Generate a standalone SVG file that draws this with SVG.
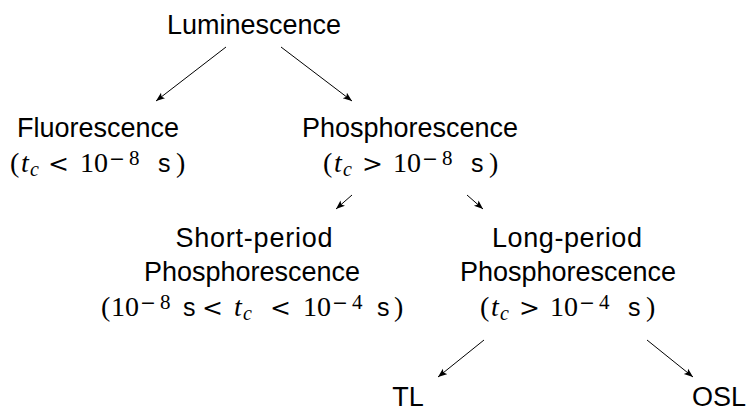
<svg xmlns="http://www.w3.org/2000/svg" width="751" height="412" viewBox="0 0 751 412">
<style>
.w{font-family:"Liberation Sans",Arial,sans-serif;font-size:27px;fill:#000;text-anchor:middle}
.m{font-family:"Liberation Serif","Times New Roman",serif;font-size:28px;fill:#000}
.i{font-style:italic}
.sb{font-size:20px;font-style:italic}
.sp{font-size:21px}
.mn{font-family:"DejaVu Sans",sans-serif;font-size:19px}
.rel{font-family:"DejaVu Serif",serif;font-size:25px}
.ss{font-family:"Liberation Sans",Arial,sans-serif;font-size:25px}
.c{stroke:#000;stroke-width:1;fill:none}
</style>
<defs>
<marker id="ah" markerUnits="userSpaceOnUse" markerWidth="12" markerHeight="10" refX="9" refY="4" orient="auto">
<path d="M0,0.5 L9,4 L0,7.5 L2,4 Z" fill="#000"/>
</marker>
</defs>
<rect width="751" height="412" fill="#fff"/>
<g id="connectors">
<line class="c" x1="226" y1="47" x2="156" y2="101" marker-end="url(#ah)"/>
<line class="c" x1="281" y1="47" x2="352" y2="101" marker-end="url(#ah)"/>
<line class="c" x1="352" y1="195" x2="336" y2="209" marker-end="url(#ah)"/>
<line class="c" x1="467" y1="195" x2="483" y2="209" marker-end="url(#ah)"/>
<line class="c" x1="484" y1="340" x2="438" y2="377" marker-end="url(#ah)"/>
<line class="c" x1="647" y1="340" x2="693" y2="377" marker-end="url(#ah)"/>
</g>
<g id="luminescence">
<text class="w" x="254" y="34">Luminescence</text>
</g>
<g id="fluorescence">
<text class="w" x="98" y="137">Fluorescence</text>
<text class="m"><tspan x="10" y="172">(</tspan><tspan class="i" x="21" y="172">t</tspan><tspan class="sb" x="30" y="176">c</tspan><tspan class="rel" x="48" y="172">&lt;</tspan><tspan x="80" y="172">10</tspan><tspan class="mn" x="109" y="165">−</tspan><tspan class="sp" x="129" y="165">8</tspan><tspan class="ss" x="158" y="172">s</tspan><tspan x="176" y="172">)</tspan></text>
</g>
<g id="phosphorescence">
<text class="w" x="410" y="137">Phosphorescence</text>
<text class="m"><tspan x="323" y="172">(</tspan><tspan class="i" x="334" y="172">t</tspan><tspan class="sb" x="343" y="176">c</tspan><tspan class="rel" x="362" y="172">&gt;</tspan><tspan x="393" y="172">10</tspan><tspan class="mn" x="422" y="165">−</tspan><tspan class="sp" x="442" y="165">8</tspan><tspan class="ss" x="471" y="172">s</tspan><tspan x="489" y="172">)</tspan></text>
</g>
<g id="short-period">
<text class="w" x="254" y="247" textLength="157" lengthAdjust="spacing">Short-period</text>
<text class="w" x="252" y="281">Phosphorescence</text>
<text class="m"><tspan x="101" y="316">(</tspan><tspan x="111" y="316">10</tspan><tspan class="mn" x="140" y="309">−</tspan><tspan class="sp" x="160" y="309">8</tspan><tspan class="ss" x="183" y="316">s</tspan><tspan class="rel" x="202" y="316">&lt;</tspan><tspan class="i" x="234" y="316">t</tspan><tspan class="sb" x="243" y="320">c</tspan><tspan class="rel" x="270" y="316">&lt;</tspan><tspan x="303" y="316">10</tspan><tspan class="mn" x="332" y="309">−</tspan><tspan class="sp" x="352" y="309">4</tspan><tspan class="ss" x="377" y="316">s</tspan><tspan x="394" y="316">)</tspan></text>
</g>
<g id="long-period">
<text class="w" x="567" y="247" textLength="150" lengthAdjust="spacing">Long-period</text>
<text class="w" x="568" y="281">Phosphorescence</text>
<text class="m"><tspan x="480" y="316">(</tspan><tspan class="i" x="491" y="316">t</tspan><tspan class="sb" x="500" y="320">c</tspan><tspan class="rel" x="519" y="316">&gt;</tspan><tspan x="550" y="316">10</tspan><tspan class="mn" x="579" y="309">−</tspan><tspan class="sp" x="599" y="309">4</tspan><tspan class="ss" x="628" y="316">s</tspan><tspan x="646" y="316">)</tspan></text>
</g>
<g id="tl">
<text class="w" x="408" y="406">TL</text>
</g>
<g id="osl">
<text class="w" x="719" y="406">OSL</text>
</g>
</svg>
